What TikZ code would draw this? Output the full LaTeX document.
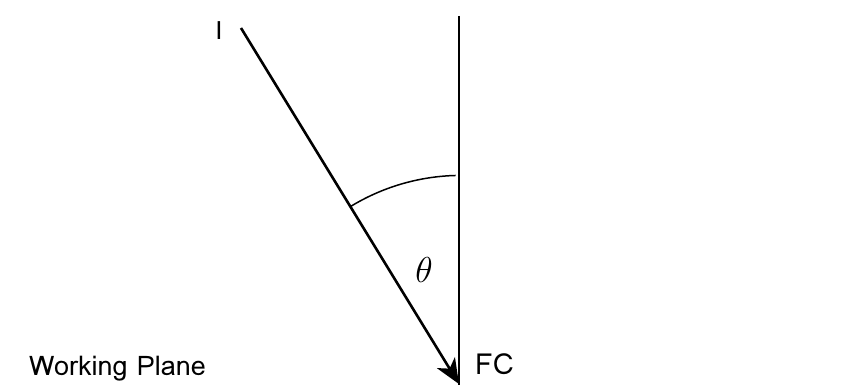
\documentclass[tikz,border=0pt]{standalone}
\usepackage{fix-cm}
\usepackage{fontspec}
\setmainfont{Loma}
\newfontfamily\plainsans{Liberation Sans}
\usepackage{tikz}
\usetikzlibrary{arrows.meta}
\tikzset{lbl/.style={font=\fontsize{27}{30}\selectfont,inner sep=0pt}}

\begin{document}
\begin{tikzpicture}[x=1pt,y=1pt]
\useasboundingbox (0,0) rectangle (855,385);
\coordinate (top) at (459,369);
\coordinate (bot) at (459,0);
\coordinate (src) at (241,357);
\coordinate (tip) at (459,1);
\draw[line width=1.5pt] (top) -- (bot);
\draw[line width=2.6pt,-{Stealth[length=25pt,width=21pt,inset=7pt]}] (src) -- (tip);
\draw[line width=1.5pt] ([shift={(121.5:208)}]tip) arc (121.5:91.5:212);

\node (lI) at (219,354) [font=\plainsans\fontsize{26}{28}\selectfont,inner sep=0pt] {I};
\node (lth) at (424,115) [font=\fontsize{36}{40}\selectfont] {$\theta$};
\node (lFC) at (475,10) [lbl,anchor=base west,font=\fontsize{29}{32}\selectfont] {FC};
\node (lWP) at (29,9) [lbl,anchor=base west] {Working Plane};
\end{tikzpicture}
\end{document}
